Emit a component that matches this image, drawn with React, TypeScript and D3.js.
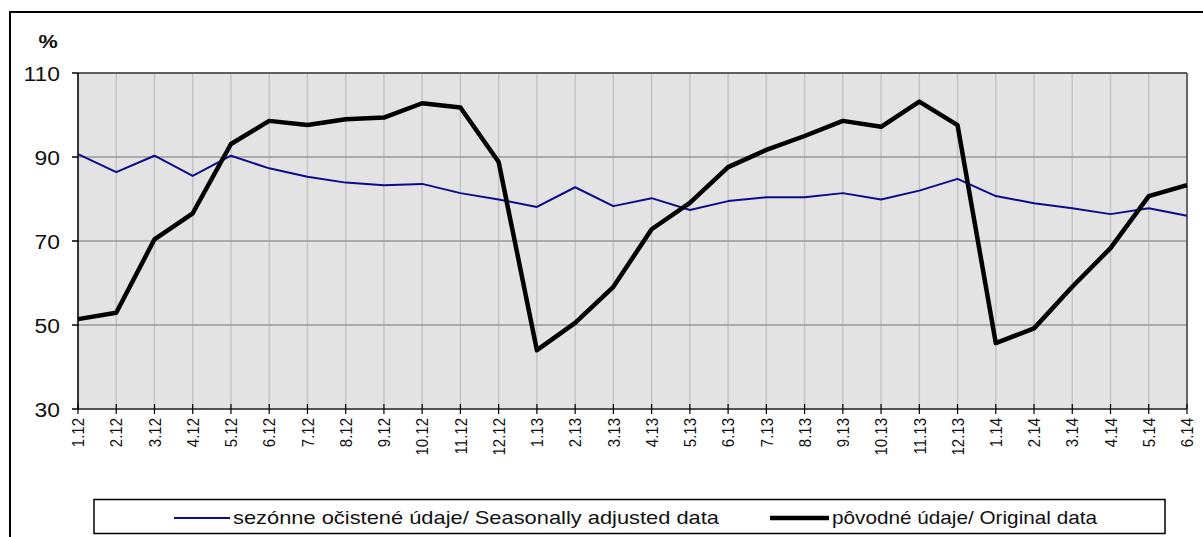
import React from 'react';
import * as d3 from 'd3';

const categories = [
  '1.12', '2.12', '3.12', '4.12', '5.12', '6.12', '7.12', '8.12', '9.12', '10.12', '11.12', '12.12',
  '1.13', '2.13', '3.13', '4.13', '5.13', '6.13', '7.13', '8.13', '9.13', '10.13', '11.13', '12.13',
  '1.14', '2.14', '3.14', '4.14', '5.14', '6.14',
];

// sezónne očistené údaje / seasonally adjusted
const adjusted = [
  90.7, 86.4, 90.3, 85.5, 90.3, 87.3, 85.3, 83.9, 83.3, 83.6, 81.4, 79.9,
  78.1, 82.8, 78.3, 80.2, 77.4, 79.5, 80.4, 80.4, 81.4, 79.9, 82.0, 84.8,
  80.7, 79.0, 77.8, 76.4, 77.8, 76.0,
];

// pôvodné údaje / original
const original = [
  51.4, 52.9, 70.4, 76.6, 93.1, 98.6, 97.6, 99.0, 99.4, 102.8, 101.8, 88.8,
  44.0, 50.5, 59.1, 72.8, 79.1, 87.6, 91.7, 95.0, 98.6, 97.2, 103.2, 97.6,
  45.7, 49.2, 59.1, 68.3, 80.7, 83.3,
];

const yTicks = [30, 50, 70, 90, 110];

const legendLabels = [
  'sezónne očistené údaje/ Seasonally adjusted data',
  'pôvodné údaje/ Original data',
];

const FONT = '"Liberation Sans", Arial, sans-serif';

export default function App() {
  const width = 1203;
  const height = 537;
  const plot = { left: 78, right: 1187, top: 73, bottom: 409 };

  const x = d3.scalePoint<string>()
    .domain(categories)
    .range([plot.left, plot.right]);

  const y = d3.scaleLinear()
    .domain([30, 110])
    .range([plot.bottom, plot.top]);

  const line = d3.line<number>()
    .x((d, i) => x(categories[i]) as number)
    .y(d => y(d));

  return (
    <svg width={width} height={height} style={{ position: 'absolute', left: 0, top: 0, background: '#fff' }}>
      {/* outer frame, runs past the window on right and bottom */}
      <rect x={10} y={12} width={1220} height={560} fill="none" stroke="#000" strokeWidth={2} />

      {/* plot background */}
      <rect x={plot.left} y={plot.top} width={plot.right - plot.left} height={plot.bottom - plot.top} fill="#e3e3e3" />

      {/* vertical grid */}
      {categories.map(c => (
        <line key={'v' + c} x1={x(c)} x2={x(c)} y1={plot.top} y2={plot.bottom} stroke="#c4c4c4" strokeWidth={1.5} />
      ))}

      {/* horizontal grid */}
      {yTicks.map(t => (
        <line key={'h' + t} x1={plot.left} x2={plot.right} y1={y(t)} y2={y(t)} stroke="#999" strokeWidth={1.5} />
      ))}

      {/* plot border top/right */}
      <line x1={plot.left} x2={plot.right} y1={plot.top} y2={plot.top} stroke="#444" strokeWidth={1.5} />
      <line x1={plot.right} x2={plot.right} y1={plot.top} y2={plot.bottom} stroke="#444" strokeWidth={1.5} />

      {/* y axis */}
      <line x1={plot.left} x2={plot.left} y1={plot.top} y2={plot.bottom} stroke="#000" strokeWidth={1.5} />
      {yTicks.map(t => (
        <g key={'yt' + t}>
          <line x1={plot.left - 6} x2={plot.left} y1={y(t)} y2={y(t)} stroke="#000" strokeWidth={1.5} />
          <text
            transform={`translate(60,${y(t)}) scale(1.09,1)`}
            dy="0.36em"
            textAnchor="end"
            fontFamily={FONT}
            fontSize={21}
            fill="#111"
          >
            {t}
          </text>
        </g>
      ))}

      {/* x axis */}
      <line x1={plot.left} x2={plot.right} y1={plot.bottom} y2={plot.bottom} stroke="#333" strokeWidth={1.5} />
      {categories.map(c => (
        <g key={'xt' + c}>
          <line x1={x(c)} x2={x(c)} y1={plot.bottom - 5} y2={plot.bottom + 5} stroke="#000" strokeWidth={1.2} />
          <text
            transform={`translate(${x(c)},${plot.bottom + 9}) rotate(-90) scale(1,1.15)`}
            dy="0.36em"
            textAnchor="end"
            fontFamily={FONT}
            fontSize={15}
            fill="#111"
          >
            {c}
          </text>
        </g>
      ))}

      {/* series */}
      <path d={line(adjusted) || ''} fill="none" stroke="#0c0c8a" strokeWidth={2} strokeLinejoin="round" />
      <path d={line(original) || ''} fill="none" stroke="#000" strokeWidth={4.5} strokeLinejoin="round" />

      {/* unit */}
      <text
        transform="translate(48,48) scale(1.2,1)"
        textAnchor="middle"
        fontFamily={FONT}
        fontSize={18}
        fontWeight="bold"
        fill="#111"
      >
        %
      </text>

      {/* legend */}
      <rect x={94} y={499.5} width={1071} height={34} fill="#fff" stroke="#000" strokeWidth={1.5} />
      <line x1={174} x2={230} y1={518} y2={518} stroke="#0c0c8a" strokeWidth={2} />
      <text x={233} y={524} fontFamily={FONT} fontSize={19} fill="#111" textLength={486} lengthAdjust="spacingAndGlyphs">
        {legendLabels[0]}
      </text>
      <line x1={770} x2={829} y1={518} y2={518} stroke="#000" strokeWidth={4.5} />
      <text x={832} y={524} fontFamily={FONT} fontSize={19} fill="#111" textLength={265} lengthAdjust="spacingAndGlyphs">
        {legendLabels[1]}
      </text>
    </svg>
  );
}
